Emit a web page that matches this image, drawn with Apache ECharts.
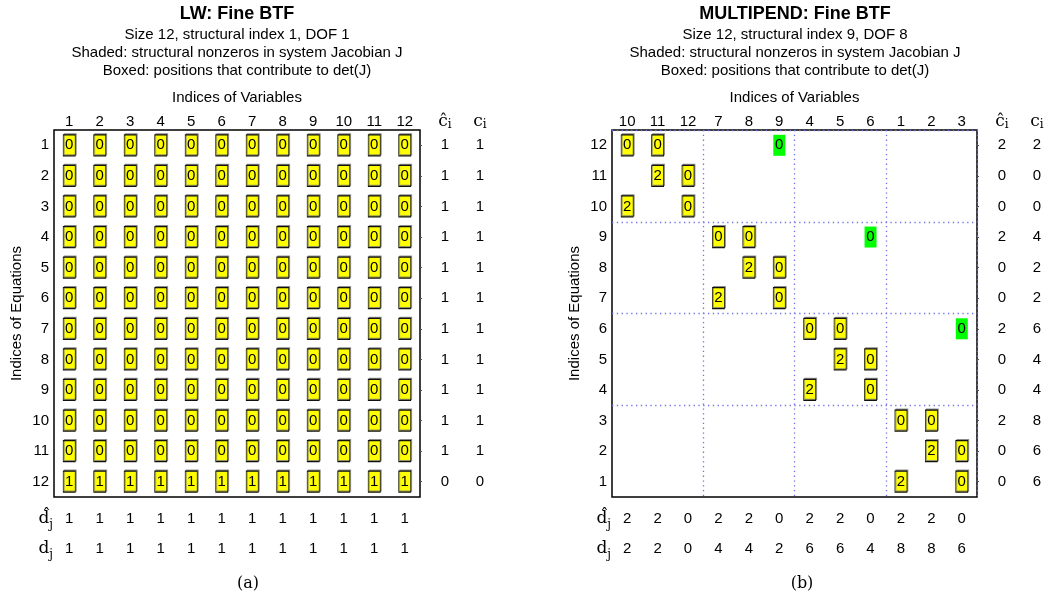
<!DOCTYPE html>
<html><head><meta charset="utf-8">
<script src="https://cdn.jsdelivr.net/npm/echarts@6/dist/echarts.min.js"></script>
<style>html,body{margin:0;padding:0;background:#fff}#c{width:1051px;height:599px}</style>
</head><body><div id="c"></div>
<script>
// ---------- Panel (a): LW ----------
const lwCols = ['1','2','3','4','5','6','7','8','9','10','11','12'];
const lwRows = ['12','11','10','9','8','7','6','5','4','3','2','1']; // bottom to top
const lwValues = [ // same order as lwRows, values per column
  ['1','1','1','1','1','1','1','1','1','1','1','1'],
  ['0','0','0','0','0','0','0','0','0','0','0','0'],
  ['0','0','0','0','0','0','0','0','0','0','0','0'],
  ['0','0','0','0','0','0','0','0','0','0','0','0'],
  ['0','0','0','0','0','0','0','0','0','0','0','0'],
  ['0','0','0','0','0','0','0','0','0','0','0','0'],
  ['0','0','0','0','0','0','0','0','0','0','0','0'],
  ['0','0','0','0','0','0','0','0','0','0','0','0'],
  ['0','0','0','0','0','0','0','0','0','0','0','0'],
  ['0','0','0','0','0','0','0','0','0','0','0','0'],
  ['0','0','0','0','0','0','0','0','0','0','0','0'],
  ['0','0','0','0','0','0','0','0','0','0','0','0']
];
const lwChat = [0,1,1,1,1,1,1,1,1,1,1,1];
const lwC    = [0,1,1,1,1,1,1,1,1,1,1,1];
const lwDhat = [1,1,1,1,1,1,1,1,1,1,1,1];
const lwD    = [1,1,1,1,1,1,1,1,1,1,1,1];

// ---------- Panel (b): MULTIPEND ----------
const mpCols = ['10','11','12','7','8','9','4','5','6','1','2','3'];
const mpRows = ['1','2','3','4','5','6','7','8','9','10','11','12']; // bottom to top
const mpYellow = [ // [column, row, value]
  ['10','12','0'],['11','12','0'],
  ['11','11','2'],['12','11','0'],
  ['10','10','2'],['12','10','0'],
  ['7','9','0'],['8','9','0'],
  ['8','8','2'],['9','8','0'],
  ['7','7','2'],['9','7','0'],
  ['4','6','0'],['5','6','0'],
  ['5','5','2'],['6','5','0'],
  ['4','4','2'],['6','4','0'],
  ['1','3','0'],['2','3','0'],
  ['2','2','2'],['3','2','0'],
  ['1','1','2'],['3','1','0']
];
const mpGreen = [['9','12','0'],['6','9','0'],['3','6','0']];
const mpChat = [0,0,2,0,0,2,0,0,2,0,0,2];
const mpC    = [6,6,8,4,4,6,2,2,4,0,0,2];
const mpDhat = [2,2,0,2,2,0,2,2,0,2,2,0];
const mpD    = [2,2,0,4,4,2,6,6,4,8,8,6];
const mpBlocks = [3,6,9];

const SANS = 'Liberation Sans, Arial, Helvetica, sans-serif';
const SERIF = 'DejaVu Serif, serif';
const richBottom = {
  m: {fontFamily: SERIF, fontSize: 17, lineHeight: 24, color: '#000'},
  s: {fontFamily: SERIF, fontSize: 12, lineHeight: 10, verticalAlign: 'bottom', color: '#000'}
};
const richTop = {
  m: {fontFamily: SERIF, fontSize: 17, lineHeight: 18, color: '#000'},
  s: {fontFamily: SERIF, fontSize: 12, lineHeight: 8, verticalAlign: 'bottom', color: '#000'}
};
const lbl = {fontSize: 15, color: '#000', fontFamily: SANS};

function panel(gi, cols, rows, chat, c, dhat, d, blocks) {
  const split = blocks ? {show: true, interval: (i) => blocks.includes(i),
      lineStyle: {color: '#7070ee', type: [1.3, 3.5], width: 1.3}} : {show: false};
  const xAxes = [
    {type: 'category', gridIndex: gi, position: 'top', data: cols,
     axisLine: {show: false}, axisTick: {show: false},
     axisLabel: Object.assign({margin: 1, interval: 0}, lbl),
     name: 'Indices of Variables', nameLocation: 'middle', nameGap: 25,
     nameTextStyle: lbl, splitLine: split},
    {type: 'category', gridIndex: gi, position: 'bottom', offset: 22, data: cols,
     axisLine: {show: false}, axisTick: {show: false},
     axisLabel: Object.assign({margin: 0, interval: 0, verticalAlign: 'middle', formatter: (v, i) => String(dhat[i])}, lbl),
     name: '{m|d\u0302}{s|j}', nameLocation: 'start', nameGap: 1, nameTextStyle: {rich: richBottom}},
    {type: 'category', gridIndex: gi, position: 'bottom', offset: 52, data: cols,
     axisLine: {show: false}, axisTick: {show: false},
     axisLabel: Object.assign({margin: 0, interval: 0, verticalAlign: 'middle', formatter: (v, i) => String(d[i])}, lbl),
     name: '{m|d}{s|j}', nameLocation: 'start', nameGap: 1, nameTextStyle: {rich: richBottom}}
  ];
  const yAxes = [
    {type: 'category', gridIndex: gi, position: 'left', data: rows,
     axisLine: {show: false}, axisTick: {show: false},
     axisLabel: Object.assign({margin: 5, interval: 0}, lbl),
     name: 'Indices of Equations', nameLocation: 'middle', nameGap: 30,
     nameTextStyle: lbl, splitLine: split},
    {type: 'category', gridIndex: gi, position: 'right', data: rows,
     axisLine: {show: false}, axisTick: {show: true, alignWithLabel: true, length: 2, lineStyle: {color: '#555'}},
     axisLabel: {show: false}},
    {type: 'category', gridIndex: gi, position: 'right', offset: 25, data: rows,
     axisLine: {show: false}, axisTick: {show: false},
     axisLabel: Object.assign({margin: 0, interval: 0, align: 'center', formatter: (v, i) => String(chat[i])}, lbl),
     name: '{m|\u0109}{s|i}', nameLocation: 'end', nameGap: -1, nameTextStyle: {rich: richTop}},
    {type: 'category', gridIndex: gi, position: 'right', offset: 60, data: rows,
     axisLine: {show: false}, axisTick: {show: false},
     axisLabel: Object.assign({margin: 0, interval: 0, align: 'center', formatter: (v, i) => String(c[i])}, lbl),
     name: '{m|c}{s|i}', nameLocation: 'end', nameGap: -1, nameTextStyle: {rich: richTop}}
  ];
  return {xAxes, yAxes};
}

const pA = panel(0, lwCols, lwRows, lwChat, lwC, lwDhat, lwD, null);
const pB = panel(1, mpCols, mpRows, mpChat, mpC, mpDhat, mpD, mpBlocks);

const lwData = [];
lwRows.forEach((r, ri) => lwCols.forEach((c, ci) => lwData.push([c, r, lwValues[ri][ci]])));

function cellSeries(xi, yi, data, green) {
  return {
    type: 'scatter', xAxisIndex: xi, yAxisIndex: yi, data: data,
    symbol: 'rect', symbolSize: [12, 21], silent: true, animation: false,
    itemStyle: green ? {color: '#00ff00', borderWidth: 0, opacity: 1}
                     : {color: '#ffff00', borderColor: '#111', borderWidth: 1, opacity: 1,
                        shadowColor: 'rgba(120,120,120,0.8)', shadowOffsetX: 1, shadowOffsetY: -1, shadowBlur: 0},
    label: {show: true, position: 'inside', formatter: (p) => p.value[2],
            fontSize: 15, color: '#000', fontFamily: SANS},
    emphasis: {disabled: true}
  };
}

const titleSub = {fontSize: 15, color: '#000', fontFamily: SANS, lineHeight: 18};
const titleMain = {fontSize: 18, fontWeight: 'bold', color: '#000', fontFamily: SANS, lineHeight: 20};
const option = {
  backgroundColor: '#fff',
  animation: false,
  title: [
    {text: 'LW: Fine BTF', subtext: 'Size 12, structural index 1, DOF 1\nShaded: structural nonzeros in system Jacobian J\nBoxed: positions that contribute to det(J)',
     left: 237, top: 4, textAlign: 'center', padding: 0, itemGap: 2, textStyle: titleMain, subtextStyle: titleSub},
    {text: 'MULTIPEND: Fine BTF', subtext: 'Size 12, structural index 9, DOF 8\nShaded: structural nonzeros in system Jacobian J\nBoxed: positions that contribute to det(J)',
     left: 795, top: 4, textAlign: 'center', padding: 0, itemGap: 2, textStyle: titleMain, subtextStyle: titleSub},
    {text: '(a)', left: 248, top: 575, textAlign: 'center', padding: 0,
     textStyle: {fontSize: 16, fontWeight: 'normal', color: '#000', fontFamily: SERIF, lineHeight: 18}},
    {text: '(b)', left: 802, top: 575, textAlign: 'center', padding: 0,
     textStyle: {fontSize: 16, fontWeight: 'normal', color: '#000', fontFamily: SERIF, lineHeight: 18}}
  ],
  grid: [
    {left: 54, top: 130, width: 366, height: 367, show: true, borderColor: '#000', borderWidth: 1.5, backgroundColor: 'transparent'},
    {left: 612, top: 130, width: 365, height: 367, show: true, borderColor: '#000', borderWidth: 1.5, backgroundColor: 'transparent'}
  ],
  xAxis: pA.xAxes.concat(pB.xAxes),
  yAxis: pA.yAxes.concat(pB.yAxes),
  series: [
    cellSeries(0, 0, lwData, false),
    cellSeries(3, 4, mpYellow, false),
    cellSeries(3, 4, mpGreen, true)
  ]
};
const chart = echarts.init(document.getElementById('c'), null, {renderer: 'canvas'});
chart.setOption(option);
</script>
</body></html>
